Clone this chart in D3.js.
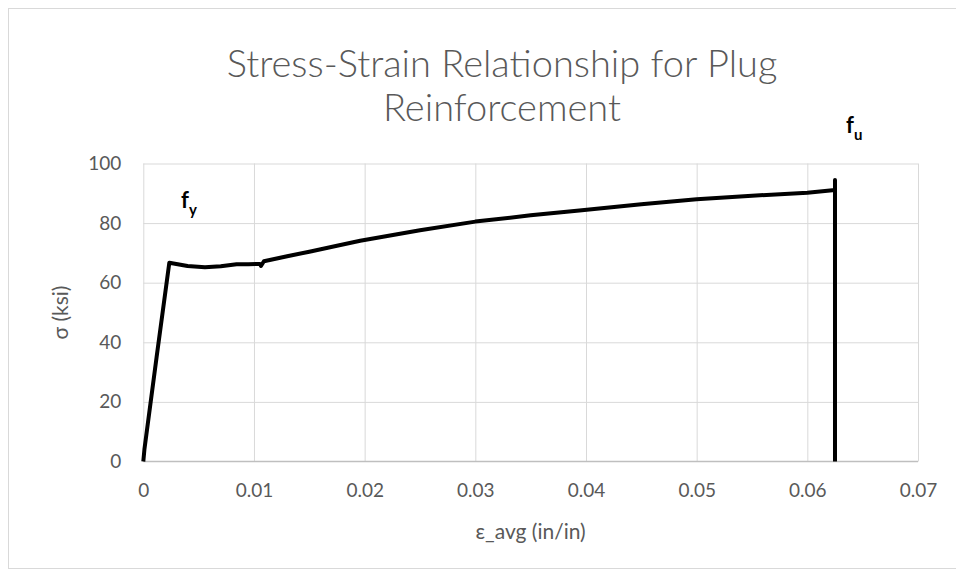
<!DOCTYPE html>
<html>
<head>
<meta charset="utf-8">
<script src="https://cdn.jsdelivr.net/npm/d3@7"></script>
<style>
  html, body { margin: 0; padding: 0; background: #fff; }
  svg { display: block; font-family: Lato, "Open Sans", sans-serif; }
</style>
</head>
<body>
<svg id="chart" width="956" height="577"></svg>
<script>
// Measured stress-strain curve for the plug reinforcement bar
const strain = [0, 0.0001, 0.0012, 0.00235, 0.0040, 0.00557, 0.0070, 0.00843, 0.0095, 0.01054, 0.01063, 0.0109,
                0.0130, 0.0150, 0.0175, 0.0196, 0.0250, 0.0300, 0.0350, 0.0394, 0.0450, 0.0500, 0.0550, 0.0600, 0.0625, 0.0625, 0.0625];
const stress = [0, 4, 35, 66.7, 65.6, 65.2, 65.5, 66.2, 66.2, 66.3, 65.6, 67.2,
                68.9, 70.4, 72.4, 74.1, 77.6, 80.5, 82.6, 84.2, 86.3, 88.0, 89.2, 90.2, 91.1, 94.5, 0];

const xTicks = [0, 0.01, 0.02, 0.03, 0.04, 0.05, 0.06, 0.07];
const yTicks = [0, 20, 40, 60, 80, 100];
const titleLines = ["Stress-Strain Relationship for Plug", "Reinforcement"];
const xTitle = "ε_avg (in/in)";
const yTitle = "σ (ksi)";

const svg = d3.select("#chart");
const plot = { left: 143.3, right: 918, top: 163.5, bottom: 461.5 };

const x = d3.scaleLinear().domain([0, 0.07]).range([plot.left, plot.right]);
const y = d3.scaleLinear().domain([0, 100]).range([plot.bottom, plot.top]);

const textColor = "#595959";
const gridColor = "#d9d9d9";

// chart frame
svg.append("rect")
  .attr("x", 8.5).attr("y", 8.5)
  .attr("width", 1000).attr("height", 560)
  .attr("fill", "#fff").attr("stroke", "#d9d9d9").attr("stroke-width", 1);

// horizontal gridlines
svg.append("g")
  .attr("transform", `translate(${plot.left},0)`)
  .call(d3.axisLeft(y).tickValues(yTicks.filter(d => d > 0)).tickSize(-(plot.right - plot.left)).tickFormat(""))
  .call(g => g.select(".domain").remove())
  .call(g => g.selectAll("line").attr("stroke", gridColor).attr("stroke-width", 1));

// vertical gridlines
svg.append("g")
  .attr("transform", `translate(0,${plot.bottom})`)
  .call(d3.axisBottom(x).tickValues(xTicks).tickSize(-(plot.bottom - plot.top)).tickFormat(""))
  .call(g => g.select(".domain").remove())
  .call(g => g.selectAll("line").attr("stroke", gridColor).attr("stroke-width", 1));

// horizontal axis line
svg.append("line")
  .attr("x1", plot.left).attr("x2", plot.right)
  .attr("y1", plot.bottom).attr("y2", plot.bottom)
  .attr("stroke", "#bfbfbf").attr("stroke-width", 1.3);

// y tick labels
svg.append("g")
  .attr("transform", `translate(${plot.left},0)`)
  .call(d3.axisLeft(y).tickValues(yTicks).tickSize(0).tickPadding(22).tickFormat(d3.format("d")))
  .call(g => g.select(".domain").remove())
  .call(g => g.selectAll("text").attr("fill", textColor).attr("font-size", 19).attr("font-family", "Lato, sans-serif"));

// x tick labels
svg.append("g")
  .attr("transform", `translate(0,${plot.bottom})`)
  .call(d3.axisBottom(x).tickValues(xTicks).tickSize(0).tickPadding(22).tickFormat(d => d === 0 ? "0" : d3.format(".2f")(d)))
  .call(g => g.select(".domain").remove())
  .call(g => g.selectAll("text").attr("fill", textColor).attr("font-size", 19).attr("font-family", "Lato, sans-serif"));

// stress-strain curve
const line = d3.line().x((d, i) => x(strain[i])).y((d, i) => y(stress[i]));
svg.append("path")
  .datum(stress)
  .attr("d", line)
  .attr("fill", "none")
  .attr("stroke", "#000")
  .attr("stroke-width", 4)
  .attr("stroke-linejoin", "round")
  .attr("stroke-linecap", "butt");

// title
svg.append("text")
  .attr("x", 502).attr("y", 77)
  .attr("text-anchor", "middle")
  .attr("fill", textColor)
  .attr("font-size", 38)
  .attr("font-weight", 300)
  .selectAll("tspan")
  .data(titleLines)
  .join("tspan")
  .attr("x", 502)
  .attr("dy", (d, i) => i === 0 ? 0 : 44)
  .text(d => d);

// axis titles
svg.append("text")
  .attr("x", (plot.left + plot.right) / 2).attr("y", 539)
  .attr("text-anchor", "middle")
  .attr("fill", textColor).attr("font-size", 21)
  .text(xTitle);

svg.append("text")
  .attr("transform", `translate(68,${(plot.top + plot.bottom) / 2}) rotate(-90)`)
  .attr("text-anchor", "middle")
  .attr("fill", textColor).attr("font-size", 21)
  .text(yTitle);

// annotations for yield and ultimate strength
function annotate(px, py, sub) {
  const t = svg.append("text")
    .attr("x", px).attr("y", py)
    .attr("font-weight", 700)
    .attr("fill", "#000");
  t.append("tspan").attr("font-size", 22).text("f");
  t.append("tspan").attr("font-size", 15).attr("dy", 7).text(sub);
}
annotate(181, 208, "y");
annotate(846, 133, "u");
</script>
</body>
</html>
